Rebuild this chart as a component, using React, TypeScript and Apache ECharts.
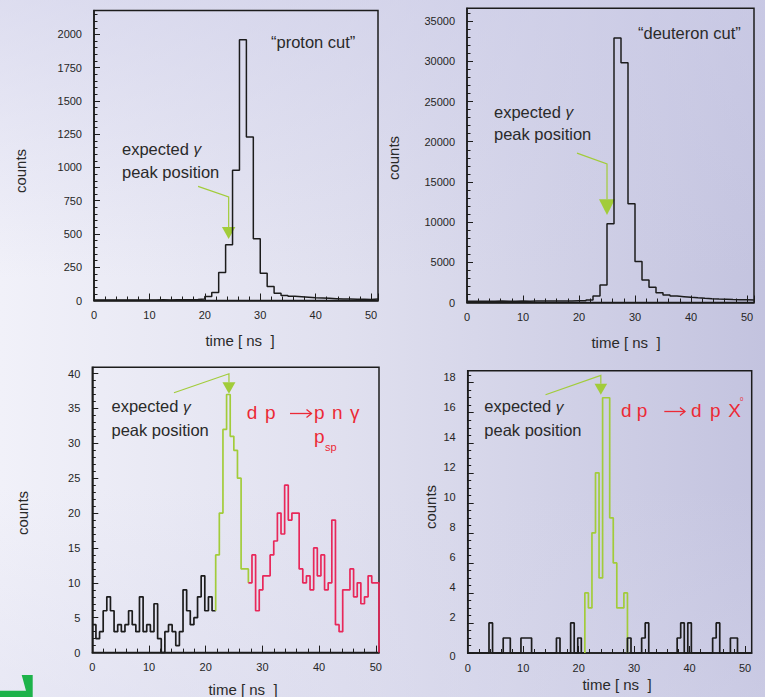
import React, { useEffect, useRef } from "react";
import * as echarts from "echarts";

// ---------- data ----------
const topBinWidth = 1.25; // ns
const protonCounts = [4, 4, 4, 3, 4, 4, 3, 4, 4, 5, 4, 5, 5, 6, 8, 12, 30, 60, 210, 420, 980, 1960, 1230, 465, 205, 105, 55, 38, 32, 28, 24, 20, 18, 16, 14, 12, 11, 10, 9, 8, 12];
const deuteronCounts = [170, 170, 160, 170, 180, 170, 170, 180, 170, 180, 190, 180, 190, 200, 200, 210, 220, 310, 810, 2180, 9790, 32900, 29820, 12280, 5090, 2800, 1890, 1225, 935, 810, 730, 650, 580, 520, 470, 430, 400, 370, 350, 330, 300];

const botBinWidth = 0.64; // ns
// d p -> p n gamma : bins 0..33 black, 34..42 green, 43..78 red
const pnBlack = [4, 2, 3, 6, 8, 6, 3, 4, 3, 4, 6, 4, 3, 8, 3, 4, 3, 7, 2, 0, 3, 4, 3, 1, 3, 9, 6, 4, 5, 8, 11, 6, 8, 6];
const pnGreen = [14, 20, 32, 37, 31, 29, 25, 12, 12];
const pnRed = [10, 14, 6, 9, 11, 11, 14, 16, 20, 17, 24, 19, 20, 20, 12, 10, 11, 9, 15, 11, 14, 9, 10, 19, 4, 3, 9, 9, 12, 8, 10, 7, 8, 11, 10, 10];
// d p -> d p X0 : bins 0..32 black, 33..44 green, 45..79 black
const dpBlack1 = [0, 0, 0, 0, 0, 0, 2, 0, 0, 0, 1, 1, 0, 0, 0, 1, 1, 1, 0, 0, 0, 0, 0, 0, 0, 1, 0, 0, 0, 2, 0, 1, 0];
const dpGreen = [4, 3, 8, 12, 5, 17, 17, 9, 6, 3, 3, 4];
const dpBlack2 = [1, 0, 0, 0, 1, 2, 0, 0, 0, 0, 0, 0, 0, 0, 1, 2, 0, 2, 0, 0, 0, 0, 0, 0, 1, 2, 0, 0, 0, 1, 1, 0, 0, 0, 0];

// expected gamma peak arrows (data coords of the arrow tip)
const arrowTips = [
  { grid: 0, x: 24.3, y: 462 },
  { grid: 1, x: 25.0, y: 10900 },
  { grid: 2, x: 24.1, y: 37.1 },
  { grid: 3, x: 24.0, y: 17.2 },
];

// ---------- styling ----------
const BLACK = "#1c1c1c";
const GREEN = "#a2cc3a";
const RED = "#e8285a";
const TXTRED = "#ec2a36";
const FONT = "Liberation Sans, Arial, sans-serif";

function histPoints(counts: number[], start: number, width: number, leadIn?: number, leadOut?: number) {
  const pts: number[][] = [];
  if (leadIn !== undefined) pts.push([start * width, leadIn]);
  counts.forEach((c, i) => {
    pts.push([(start + i) * width, c]);
    pts.push([(start + i + 1) * width, c]);
  });
  if (leadOut !== undefined) pts.push([(start + counts.length) * width, leadOut]);
  return pts;
}

const grids = [
  { left: 94, top: 10.5, width: 284, height: 290 },
  { left: 467, top: 8.3, width: 287, height: 294.2 },
  { left: 92.3, top: 367.3, width: 286.7, height: 285.3 },
  { left: 467.7, top: 370.7, width: 284, height: 282.3 },
];
const xMax = [51.25, 51.25, 50.56, 51.2];
const yMax = [2180, 36600, 40.9, 18.8];
const yInterval = [250, 5000, 5, 2];
const yMinorSplit = [5, 5, 5, 4];

function makeX(gi: number) {
  return {
    type: "value",
    gridIndex: gi,
    min: 0,
    max: xMax[gi],
    interval: 10,
    axisLine: { show: true, onZero: false, lineStyle: { color: BLACK, width: 1.5 } },
    axisTick: { show: true, inside: true, length: 7, lineStyle: { color: BLACK, width: 1 } },
    minorTick: { show: true, splitNumber: 5, length: 4, lineStyle: { color: BLACK, width: 1 } },
    splitLine: { show: false },
    minorSplitLine: { show: false },
    axisLabel: {
      margin: 9,
      fontSize: 11,
      color: "#262626",
      fontFamily: FONT,
      showMaxLabel: false,
      formatter: (v: number) => String(v),
    },
  };
}
function makeY(gi: number) {
  const shifted = gi === 3; // labels of the last panel sit slightly above their ticks
  return {
    type: "value",
    gridIndex: gi,
    min: 0,
    max: yMax[gi],
    interval: yInterval[gi],
    axisLine: { show: true, onZero: false, lineStyle: { color: BLACK, width: 1.5 } },
    axisTick: { show: true, inside: true, length: 6, lineStyle: { color: BLACK, width: 1 } },
    minorTick: { show: true, splitNumber: yMinorSplit[gi], length: 3.5, lineStyle: { color: BLACK, width: 1 } },
    splitLine: { show: false },
    minorSplitLine: { show: false },
    axisLabel: {
      margin: 12,
      fontSize: 11,
      color: "#262626",
      fontFamily: FONT,
      showMaxLabel: false,
      formatter: shifted
        ? (v: number) => (v === 0 ? "{b|0}" : "{a|" + v + "}")
        : (v: number) => String(v),
      rich: shifted
        ? {
            a: { fontSize: 11, color: "#262626", fontFamily: FONT, padding: [0, 0, 12, 0] },
            b: { fontSize: 11, color: "#262626", fontFamily: FONT, padding: [5, 0, 0, 0] },
          }
        : undefined,
    },
  };
}

function line(gi: number, data: number[][], color: string, width: number) {
  return {
    type: "line",
    xAxisIndex: gi,
    yAxisIndex: gi,
    data,
    symbol: "none",
    showSymbol: false,
    silent: true,
    lineStyle: { color, width },
    clip: true,
  };
}

function txt(text: string, x: number, y: number, size: number, color = "#2a2a2a", extraStyle: any = {}) {
  return {
    type: "text",
    x,
    y,
    silent: true,
    style: { text, fill: color, fontSize: size, fontFamily: FONT, align: "left", verticalAlign: "middle", ...extraStyle },
  };
}

function expectedGamma(x: number, y: number, size: number) {
  return txt("expected {g|γ}", x, y, size, "#2a2a2a", {
    rich: { g: { fontSize: size - 1, fontStyle: "italic", fill: "#2a2a2a", fontFamily: FONT } },
  });
}

function reactionArrow(x0: number, x1: number, y: number) {
  return [
    { type: "line", silent: true, shape: { x1: x0, y1: y, x2: x1, y2: y }, style: { stroke: TXTRED, lineWidth: 1.3 } },
    {
      type: "polyline",
      silent: true,
      shape: { points: [[x1 - 5, y - 4], [x1, y], [x1 - 5, y + 4]] },
      style: { stroke: TXTRED, lineWidth: 1.3, fill: null },
    },
  ];
}

export default function App() {
  const ref = useRef<HTMLDivElement>(null);
  useEffect(() => {
    if (!ref.current) return;
    const chart = echarts.init(ref.current, null, { renderer: "svg", width: 765, height: 697 });
    const series = [
      line(0, histPoints(protonCounts, 0, topBinWidth), BLACK, 1.5),
      line(1, histPoints(deuteronCounts, 0, topBinWidth), BLACK, 1.5),
      line(2, histPoints(pnBlack, 0, botBinWidth), BLACK, 1.7),
      line(2, histPoints(pnGreen, pnBlack.length, botBinWidth, pnBlack[pnBlack.length - 1], pnRed[0]), GREEN, 1.7),
      line(2, histPoints(pnRed, pnBlack.length + pnGreen.length, botBinWidth, undefined, 0), RED, 1.7),
      line(3, histPoints(dpBlack1, 0, botBinWidth), BLACK, 1.7),
      line(3, histPoints(dpGreen, dpBlack1.length, botBinWidth, 0, 0), GREEN, 1.7),
      line(3, histPoints(dpBlack2, dpBlack1.length + dpGreen.length, botBinWidth, 0), BLACK, 1.7),
    ];
    chart.setOption({
      animation: false,
      backgroundColor: "transparent",
      grid: grids.map((g) => ({ ...g, show: true, borderColor: BLACK, borderWidth: 1.5, backgroundColor: "transparent" })),
      xAxis: [0, 1, 2, 3].map(makeX),
      yAxis: [0, 1, 2, 3].map(makeY),
      series,
    });

    const arrowShapes = [
      { half: 6.7, head: 12, stem: 30, dx: -30.6, dy: -10.6 },
      { half: 8, head: 15.7, stem: 35.3, dx: -30, dy: -10.7 },
      { half: 6.5, head: 11.6, stem: 8.4, dx: -55, dy: 19 },
      { half: 6.3, head: 11, stem: 8.3, dx: -55.3, dy: 19.3 },
    ];
    const graphics: any[] = [];
    arrowTips.forEach((a, i) => {
      const p = chart.convertToPixel({ gridIndex: a.grid } as any, [a.x, a.y]) as number[];
      const s = arrowShapes[i];
      const baseY = p[1] - s.head;
      const stemTop = baseY - s.stem;
      graphics.push({
        type: "polyline",
        silent: true,
        shape: { points: [[p[0] + s.dx, stemTop + s.dy], [p[0], stemTop], [p[0], baseY]] },
        style: { stroke: GREEN, lineWidth: 1.2, fill: null },
      });
      graphics.push({
        type: "polygon",
        silent: true,
        shape: { points: [[p[0] - s.half, baseY], [p[0] + s.half, baseY], [p[0], p[1]]] },
        style: { fill: GREEN, stroke: null },
      });
    });

    const ann = 16.5;
    graphics.push(
      expectedGamma(122, 148.5, ann),
      txt("peak position", 122, 171.5, ann),
      txt("\u201Cproton cut\u201D", 271, 42, ann),
      expectedGamma(494, 111.5, ann),
      txt("peak position", 494, 134, ann),
      txt("\u201Cdeuteron cut\u201D", 638, 33, ann),
      expectedGamma(111.5, 406, ann),
      txt("peak position", 111.5, 429.5, ann),
      expectedGamma(484.3, 406, ann),
      txt("peak position", 484.3, 430, ann)
    );
    // red reaction labels
    const pn = [["d", 246.7], ["p", 265], ["p", 314], ["n", 332], ["\u03B3", 350]] as [string, number][];
    pn.forEach(([t, x]) => graphics.push(txt(t, x, 412, 19, TXTRED)));
    graphics.push(...reactionArrow(290, 311.5, 413.5));
    graphics.push(txt("p", 314, 436, 19, TXTRED));
    graphics.push(txt("sp", 325, 447, 11, TXTRED));
    const dp = [["d", 621], ["p", 636.7], ["d", 691], ["p", 710], ["X", 728.3]] as [string, number][];
    dp.forEach(([t, x]) => graphics.push(txt(t, x, 410, 19, TXTRED)));
    graphics.push(...reactionArrow(664.3, 685, 411.5));
    graphics.push(txt("0", 740, 399, 6, TXTRED));

    // axis titles
    const axTitle = 15;
    const counts = [
      [20, 171],
      [393, 158],
      [22, 513],
      [430, 507],
    ];
    counts.forEach(([x, y]) =>
      graphics.push({
        type: "text",
        x,
        y,
        rotation: Math.PI / 2,
        silent: true,
        style: { text: "counts", fill: "#2a2a2a", fontSize: axTitle, fontFamily: FONT, align: "center", verticalAlign: "middle" },
      })
    );
    const times = [
      [240, 340],
      [626, 342],
      [243, 689],
      [617, 684],
    ];
    times.forEach(([x, y]) =>
      graphics.push({
        type: "text",
        x,
        y,
        silent: true,
        style: { text: "time [ ns  ]", fill: "#2a2a2a", fontSize: axTitle, fontFamily: FONT, align: "center", verticalAlign: "middle" },
      })
    );
    // green corner mark
    graphics.push({
      type: "polygon",
      silent: true,
      shape: { points: [[0, 690.7], [26, 690.7], [21.7, 675], [32.7, 675], [32.7, 697], [0, 697]] },
      style: { fill: "#1db34a" },
    });

    chart.setOption({ graphic: graphics });
    return () => chart.dispose();
  }, []);

  return (
    <div
      ref={ref}
      style={{
        position: "absolute",
        left: 0,
        top: 0,
        width: 765,
        height: 697,
        background:
          "linear-gradient(to bottom, rgba(205,205,232,0.55) 0%, rgba(255,255,255,0) 40%, rgba(255,255,255,0) 70%, rgba(215,215,236,0.35) 100%), linear-gradient(to right, #f1f1f9 0%, #e0e0ef 45%, #c3c3df 100%)",
      }}
    />
  );
}
